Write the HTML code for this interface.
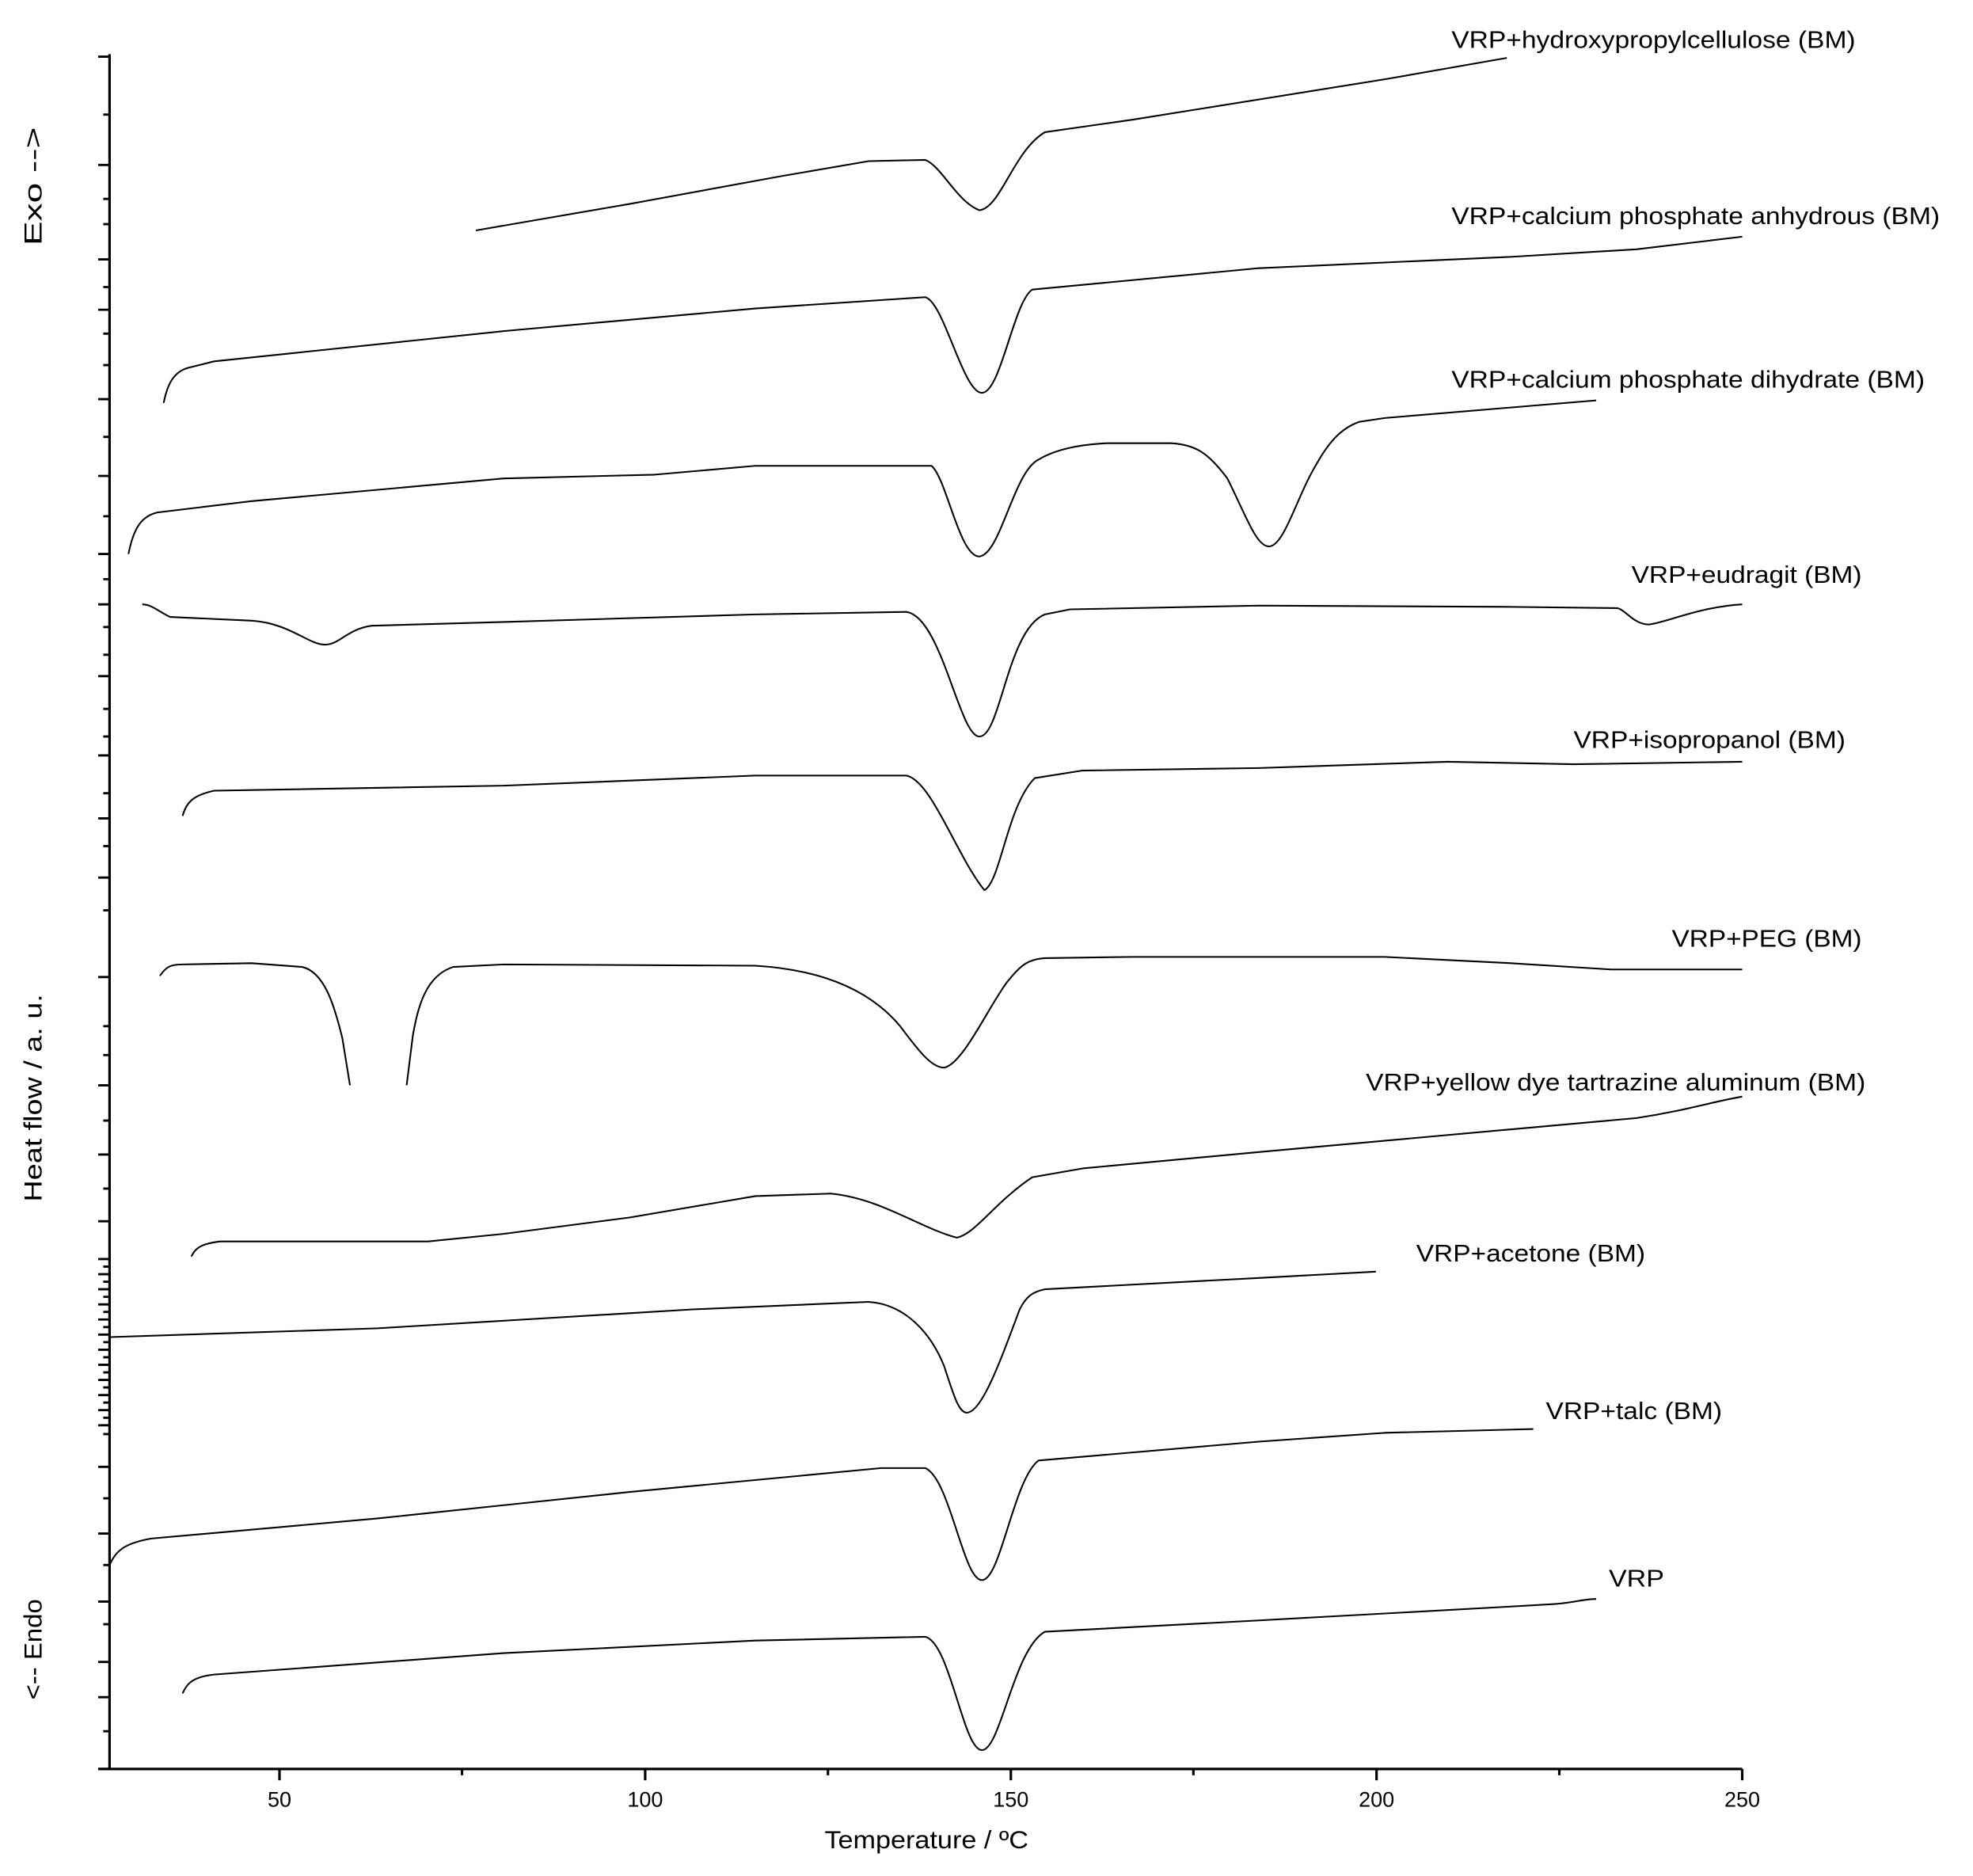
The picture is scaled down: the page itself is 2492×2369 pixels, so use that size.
<!DOCTYPE html>
<html><head><meta charset="utf-8"><style>
html,body{margin:0;padding:0;background:#fff;}
svg{display:block;}
text{font-family:"Liberation Sans",Arial,sans-serif;fill:#000;}
</style></head><body>
<svg width="2492" height="2369" viewBox="0 0 1567.3 1490" xmlns="http://www.w3.org/2000/svg">
<rect x="0" y="0" width="1567.3" height="1490" fill="#fff"/>
<g stroke="#000" stroke-width="2" fill="none">
<line x1="87" y1="43" x2="87" y2="1405.5"/>
<line x1="78" y1="1405" x2="1384" y2="1405"/>
<line x1="222" y1="1405" x2="222" y2="1414"/>
<line x1="512.5" y1="1405" x2="512.5" y2="1414"/>
<line x1="803" y1="1405" x2="803" y2="1414"/>
<line x1="1093.5" y1="1405" x2="1093.5" y2="1414"/>
<line x1="1384" y1="1405" x2="1384" y2="1414"/>
<line x1="367" y1="1405" x2="367" y2="1410"/>
<line x1="657.7" y1="1405" x2="657.7" y2="1410"/>
<line x1="948" y1="1405" x2="948" y2="1410"/>
<line x1="1238.7" y1="1405" x2="1238.7" y2="1410"/>
</g>
<g stroke="#000" stroke-width="1.8">
<path d="M78 45H87M78 131H87M78 206H87M78 246H87M78 317H87M78 378H87M78 440H87M78 480H87M78 537H87M78 600H87M78 650H87M78 697H87M78 776H87M78 862H87M78 917H87M78 970H87M78 1000H87M78 1012H87M78 1024H87M78 1036H87M78 1048H87M78 1060H87M78 1072H87M78 1084H87M78 1096H87M78 1108H87M78 1120H87M78 1132H87M78 1165H87M78 1218H87M78 1272H87M78 1320H87M78 1348H87M78 1405H87"/>
<path d="M82 91H87M82 158H87M82 178H87M82 228H87M82 265H87M82 290H87M82 347H87M82 410H87M82 460H87M82 498H87M82 520H87M82 563H87M82 585H87M82 630H87M82 672H87M82 723H87M82 815H87M82 838H87M82 890H87M82 944H87M82 1006H87M82 1018H87M82 1030H87M82 1042H87M82 1054H87M82 1066H87M82 1078H87M82 1090H87M82 1102H87M82 1114H87M82 1126H87M82 1139H87M82 1190H87M82 1243H87M82 1290H87M82 1375H87"/>
</g>
<g font-size="17" text-anchor="middle">
<text x="222" y="1435">50</text>
<text x="512.5" y="1435">100</text>
<text x="803" y="1435">150</text>
<text x="1093.5" y="1435">200</text>
<text x="1384" y="1435">250</text>
</g>
<text x="736" y="1468" font-size="20" text-anchor="middle" textLength="162" lengthAdjust="spacingAndGlyphs">Temperature / ºC</text>
<text transform="translate(33,148) rotate(-90)" font-size="20" text-anchor="middle" textLength="94" lengthAdjust="spacingAndGlyphs">Exo --&gt;</text>
<text transform="translate(33,872) rotate(-90)" font-size="20" text-anchor="middle" textLength="165" lengthAdjust="spacingAndGlyphs">Heat flow / a. u.</text>
<text transform="translate(33,1310) rotate(-90)" font-size="20" text-anchor="middle" textLength="80" lengthAdjust="spacingAndGlyphs">&lt;-- Endo</text>

<g stroke="#000" stroke-width="1.3" fill="none" stroke-linejoin="round">
<path d="M378 183 L500 162 L620 140 L690 128 L735 127 C748 132 760 160 778 167 C795 165 805 120 830 105 L900 95 L1000 79 L1100 63 L1197 46"/>
<path d="M130 320 C133 305 138 295 150 292 L170 287 L400 263 L600 245 L735 236 C750 240 765 312 780 312 C795 312 805 240 820 230 L1000 213 L1200 204 L1300 198 L1384 188"/>
<path d="M102 440 C106 420 112 410 125 407 L200 398 L400 380 L520 377 L600 370 L700 370 L740 370 C752 380 762 442 778 442 C795 440 805 375 825 365 C840 356 860 353 880 352 L930 352 C950 353 960 360 975 380 C990 410 998 434 1008 434 C1020 434 1030 395 1045 370 C1055 352 1065 340 1080 335 L1100 332 L1268 318"/>
<path d="M113 480 C120 480 125 485 135 490 L200 493 C230 495 245 512 258 512 C270 512 275 500 295 497 L400 494 L600 488 L720 486 C748 490 762 585 778 585 C795 585 800 500 830 488 L850 484 L1000 481 L1200 482 L1285 483 C1292 485 1298 496 1310 496 C1325 494 1350 482 1384 480"/>
<path d="M145 648 C148 638 152 632 170 628 L400 624 L600 616 L720 616 C740 620 760 680 782 707 C795 700 800 640 822 618 L860 612 L1000 610 L1150 605 L1250 607 L1384 605"/>
<path d="M127 775 C132 768 135 766 145 766 L200 765 L240 768 C258 772 266 800 272 825 L278 862"/>
<path d="M323 862 L328 822 C332 800 338 775 360 768 L400 766 L600 767 C650 770 690 785 715 815 C730 835 740 848 750 848 C765 845 785 800 800 780 C810 768 815 762 830 761 L900 760 L1100 760 L1200 765 L1280 770 L1384 770"/>
<path d="M152 998 C155 992 158 988 175 986 L340 986 L400 980 L500 967 L600 950 L660 948 C700 952 730 975 760 983 C775 980 790 955 820 935 L860 928 L1000 915 L1200 897 L1300 888 C1340 882 1360 875 1384 871"/>
<path d="M87 1062 L300 1055 L500 1043 L550 1040 L690 1034 C720 1036 740 1060 750 1085 C758 1110 762 1122 768 1122 C780 1122 795 1080 810 1040 C815 1030 820 1026 830 1024 L1000 1015 L1093 1010"/>
<path d="M87 1243 C92 1232 98 1226 120 1222 L300 1206 L500 1185 L700 1166 L735 1166 C755 1175 765 1255 780 1255 C795 1255 805 1175 825 1160 L1000 1145 L1100 1138 L1218 1135"/>
<path d="M145 1345 C148 1338 152 1332 170 1330 L400 1313 L600 1303 L735 1300 C755 1305 765 1390 780 1390 C795 1390 805 1310 830 1296 L1000 1287 L1200 1276 L1235 1274 C1250 1273 1258 1270 1268 1270"/>
</g>

<g font-size="19">
<text x="1153" y="38" textLength="321" lengthAdjust="spacingAndGlyphs">VRP+hydroxypropylcellulose (BM)</text>
<text x="1153" y="178" textLength="388" lengthAdjust="spacingAndGlyphs">VRP+calcium phosphate anhydrous (BM)</text>
<text x="1153" y="308" textLength="376" lengthAdjust="spacingAndGlyphs">VRP+calcium phosphate dihydrate (BM)</text>
<text x="1296" y="463" textLength="183" lengthAdjust="spacingAndGlyphs">VRP+eudragit (BM)</text>
<text x="1250" y="594" textLength="216" lengthAdjust="spacingAndGlyphs">VRP+isopropanol (BM)</text>
<text x="1328" y="752" textLength="151" lengthAdjust="spacingAndGlyphs">VRP+PEG (BM)</text>
<text x="1085" y="866" textLength="397" lengthAdjust="spacingAndGlyphs">VRP+yellow dye tartrazine aluminum (BM)</text>
<text x="1125" y="1002" textLength="182" lengthAdjust="spacingAndGlyphs">VRP+acetone (BM)</text>
<text x="1228" y="1127" textLength="140" lengthAdjust="spacingAndGlyphs">VRP+talc (BM)</text>
<text x="1278" y="1260" textLength="44" lengthAdjust="spacingAndGlyphs">VRP</text>
</g>
</svg>
</body></html>
